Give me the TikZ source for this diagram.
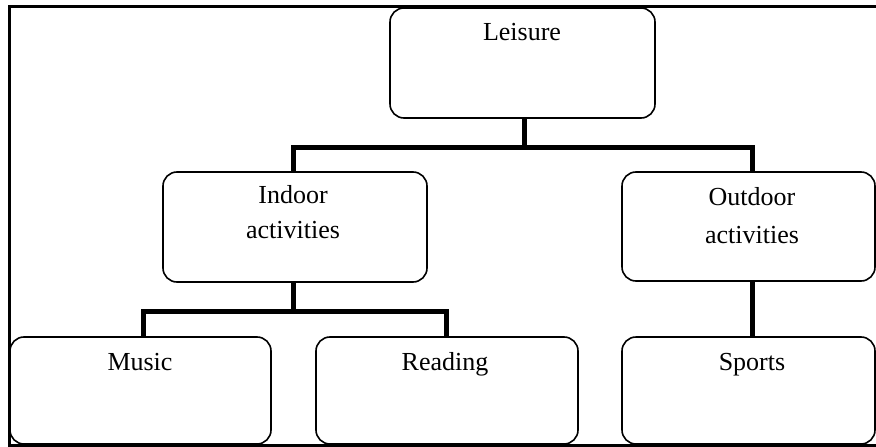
\documentclass[tikz,border=0pt]{standalone}
\usepackage{fontspec}
\setmainfont{Liberation Serif}
\begin{document}
\begin{tikzpicture}[x=1pt,y=-1pt,
  box/.style={draw=black, line width=1.6pt, rounded corners=14pt, fill=white},
  conn/.style={draw=black, line width=5pt},
  lbl/.style={anchor=base, inner sep=0pt, font=\fontsize{26}{30}\selectfont}]
\fill[white] (0,0) rectangle (876,447);
\useasboundingbox (0,0) rectangle (876,447);
% frame
\draw[line width=3pt] (877,6) -- (9,6) -- (9,445) -- (877,445);
% boxes
\node[box, minimum width=265pt, minimum height=110pt] (leisure) at (522.5,63) {};
\node[box, minimum width=264pt, minimum height=110pt] (indoor) at (295,227) {};
\node[box, minimum width=253pt, minimum height=109pt] (outdoor) at (748.5,226.5) {};
\node[box, minimum width=261pt, minimum height=107pt] (music) at (140.5,390.5) {};
\node[box, minimum width=262pt, minimum height=107pt] (reading) at (447,390.5) {};
\node[box, minimum width=253pt, minimum height=107pt] (sports) at (748.5,390.5) {};
% texts
\node[lbl] (tleisure) at (522,40) {Leisure};
\node[lbl] (tindoor1) at (293,203) {Indoor};
\node[lbl] (tindoor2) at (293,238) {activities};
\node[lbl] (toutdoor1) at (752,205) {Outdoor};
\node[lbl] (toutdoor2) at (752,243) {activities};
\node[lbl] (tmusic) at (140,370) {Music};
\node[lbl] (treading) at (445,370) {Reading};
\node[lbl] (tsports) at (752,370) {Sports};
% junctions
\coordinate (j1) at (524,147);
\coordinate (j2) at (293,311);
% connectors
\draw[conn] (leisure.south -| j1) -- (j1);
\draw[conn] (293,172) |- (j1) -| (752,172);
\draw[conn] (indoor.south -| j2) -- (j2);
\draw[conn] (143,337) |- (j2) -| (446,337);
\draw[conn] (752,281) -- (752,337);
\end{tikzpicture}
\end{document}
